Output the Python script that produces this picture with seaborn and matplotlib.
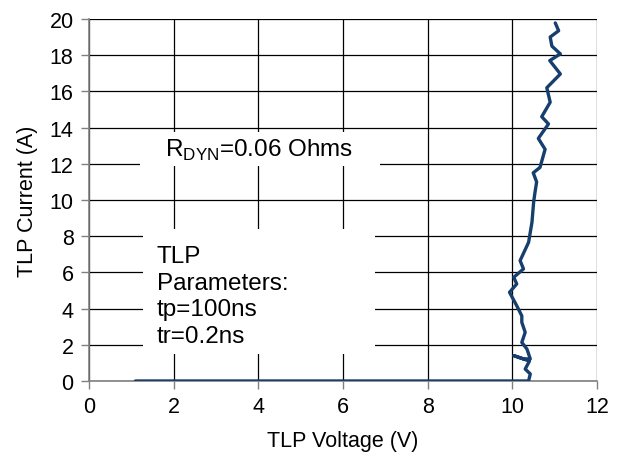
import matplotlib
matplotlib.use("Agg")
import matplotlib.pyplot as plt
from matplotlib.patches import Rectangle
import seaborn as sns
import pandas as pd

# TLP curve points
voltage = [1.1, 10.38, 10.42, 10.30, 10.40, 10.03, 10.26, 10.42, 10.34, 10.22, 10.30,
           10.22, 10.22, 10.10, 9.93, 10.10, 10.03, 10.26, 10.18, 10.38, 10.46,
           10.50, 10.53, 10.57, 10.49, 10.65, 10.77, 10.61, 10.85, 10.69, 10.89,
           10.81, 11.13, 10.88, 11.13, 10.93, 10.89, 11.09, 11.01]
current = [0.0, 0.0, 0.39, 0.66, 1.1, 1.4, 1.22, 1.22, 1.77, 2.13, 2.69,
           3.24, 3.6, 4.16, 4.9, 5.36, 5.73, 6.19, 6.65, 7.66, 8.77,
           9.9, 10.4, 11.0, 11.5, 11.8, 12.8, 13.4, 14.2, 14.6, 15.4,
           16.2, 16.96, 17.7, 18.07, 18.5, 19.0, 19.35, 19.78]

df = pd.DataFrame({"v": voltage, "i": current})

sns.set_style("white", {"text.color": "black", "xtick.color": "black",
                        "ytick.color": "black", "axes.labelcolor": "black"})
plt.rcParams['font.family'] = ['Liberation Sans', 'DejaVu Sans']

fig = plt.figure(figsize=(6.26, 4.6), dpi=100)
ax = fig.add_axes([0.142, 0.1696, 0.812, 0.787])

sns.lineplot(data=df, x="v", y="i", sort=False, estimator=None,
             color="#173f6e", linewidth=2.4, ax=ax, zorder=5)

ax.set_xlim(0, 12)
ax.set_ylim(0, 20)
ax.set_xticks(range(0, 13, 2))
ax.set_yticks(range(0, 21, 2))
ax.grid(True, color="black", linewidth=0.9)
ax.set_axisbelow(True)
for side in ["top", "right"]:
    ax.spines[side].set_visible(False)
for side in ["left", "bottom"]:
    ax.spines[side].set_color("#808080")
    ax.spines[side].set_linewidth(1.2)
ax.tick_params(axis="both", direction="out", length=6, width=1, color="#808080",
               labelcolor="black", labelsize=15.5, left=True, bottom=True, pad=5)
ax.set_xlabel("TLP Voltage (V)", fontsize=15.5, labelpad=9)
ax.set_ylabel("TLP Current (A)", fontsize=15.5, labelpad=8)

# white boxes behind the annotations
ax.add_patch(Rectangle((1.2, 11.9), 5.67, 1.86, facecolor="white", edgecolor="none", zorder=3))
ax.add_patch(Rectangle((1.28, 1.5), 5.48, 6.9, facecolor="white", edgecolor="none", zorder=3))

ax.text(1.8, 12.8, r"R$_{\mathregular{DYN}}$=0.06 Ohms", fontsize=17.5, va="center",
        ha="left", zorder=4)
ax.text(1.6, 4.7, "TLP\nParameters:\ntp=100ns\ntr=0.2ns", fontsize=17.5, va="center",
        ha="left", linespacing=1.28, zorder=4)

fig.savefig("out.png", dpi=100)
